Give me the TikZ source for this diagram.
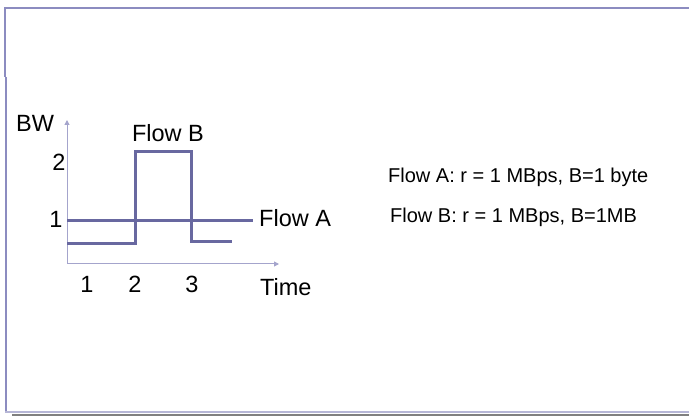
\documentclass[tikz,border=0pt]{standalone}
\usepackage{fontspec}
\setmainfont{Liberation Sans}
\usetikzlibrary{arrows.meta}
\definecolor{flowc}{HTML}{6868A0}
\definecolor{axisc}{HTML}{A4A4CC}
\definecolor{framec}{HTML}{8C8CC0}
\definecolor{shadowc}{HTML}{808080}
\newcommand{\biglbl}[1]{\fontsize{23.5}{27}\selectfont #1}
\newcommand{\smalllbl}[1]{\fontsize{20}{23}\selectfont #1}
\begin{document}
\begin{tikzpicture}[x=1pt,y=-1pt,
  flow/.style={draw=flowc,line width=3pt},
  axisline/.style={draw=axisc,line width=1pt,-{Triangle[length=5pt,width=5pt]}},
  framel/.style={draw=framec,line width=1.1pt},
  lbl/.style={inner sep=0pt,anchor=base},
  lblw/.style={inner sep=0pt,anchor=base west}]
\useasboundingbox (0,0) rectangle (689,417);
% frame
\draw[framel] (5,77) -- (5,8) -- (689,8);
\draw[framel] (6,77) -- (6,412);
\draw[draw=axisc!80,line width=1.3pt] (5,412) -- (689,412);
\draw[draw=shadowc,line width=2.5pt] (12,415) -- (689,415);
% axes
\coordinate (o) at (67,264);
\coordinate (ytop) at (67,120);
\coordinate (xend) at (279,264);
\draw[axisline] (o) -- (ytop);
\draw[axisline] (o) -- (xend);
% flows
\coordinate (a1) at (67,221);
\coordinate (a2) at (253,221);
\draw[flow] (a1) -- (a2);
\coordinate (b1) at (67,244);
\coordinate (b2) at (135,244);
\coordinate (b3) at (135,152);
\coordinate (b4) at (191,152);
\coordinate (b5) at (191,242);
\coordinate (b6) at (232,242);
\draw[flow,line join=miter] (b1) -- (b2) -- (b3) -- (b4) -- (b5) -- (b6);
% labels
\node[lblw] (bw) at (16,132) {\biglbl{BW}};
\node[lbl] (flowb) at (168,142) {\biglbl{Flow B}};
\node[lbl] (y2) at (59,171) {\biglbl{2}};
\node[lbl] (y1) at (56,228) {\biglbl{1}};
\node[lblw] (flowa) at (259,227) {\biglbl{Flow A}};
\node[lbl] (t1) at (87,292) {\biglbl{1}};
\node[lbl] (t2) at (135,292) {\biglbl{2}};
\node[lbl] (t3) at (192,292) {\biglbl{3}};
\node[lblw] (time) at (260,295) {\biglbl{Time}};
\node[lblw] (ta) at (388,183) {\smalllbl{Flow A: r = 1 MBps, B=1 byte}};
\node[lblw] (tb) at (390,223) {\smalllbl{Flow B: r = 1 MBps, B=1MB}};
\end{tikzpicture}
\end{document}
